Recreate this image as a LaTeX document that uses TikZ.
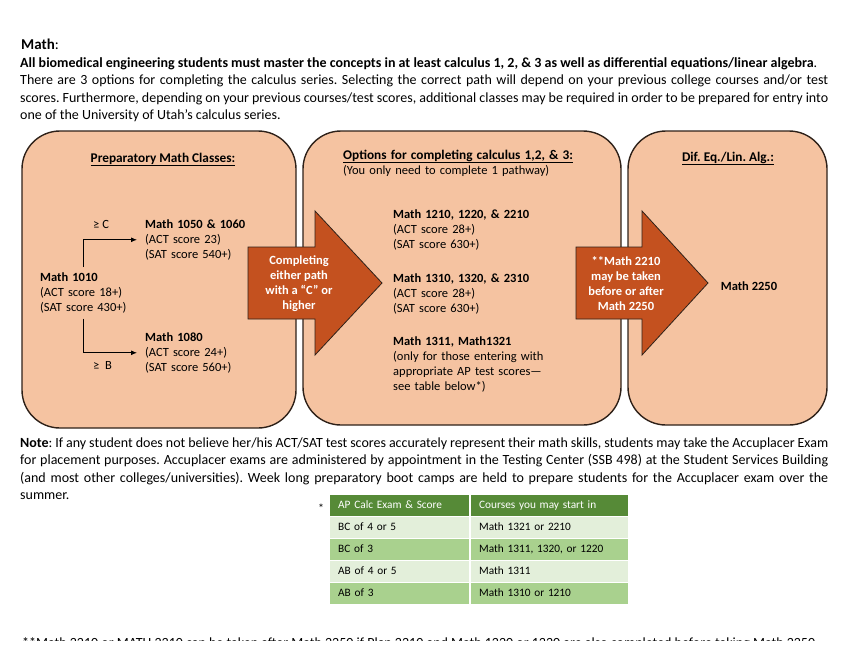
\documentclass[tikz,border=0pt]{standalone}
\usepackage{fontspec}
\setmainfont{Carlito}
\usetikzlibrary{arrows.meta,positioning,calc}
\definecolor{Peach}{HTML}{F5C3A1}
\definecolor{Rust}{HTML}{C4511F}
\definecolor{Edge}{HTML}{2E2119}
\definecolor{Leaf}{HTML}{568A37}
\definecolor{PaleLeaf}{HTML}{E3EFDA}
\definecolor{MidLeaf}{HTML}{A9D18E}
\frenchspacing

\begin{document}
\begin{tikzpicture}[x=1pt,y=-1pt,
    panel/.style={draw=Edge,line width=1.4pt,fill=Peach,rounded corners=38pt,inner sep=0pt},
    bigarrow/.style={draw=Edge,line width=0.8pt,fill=Rust,line join=miter},
    arrtxt/.style={text=white,align=center,font=\bfseries\fontsize{12.5}{15}\selectfont},
    para/.style={anchor=base west,inner sep=0pt,text width=808pt,align=justify,font=\fontsize{14}{17.5}\selectfont},
    course/.style={anchor=base west,inner sep=0pt,text width=175pt,align=left,font=\fontsize{12.5}{15.3}\selectfont},
    title/.style={anchor=base,inner sep=0pt,font=\bfseries\fontsize{13.3}{15}\selectfont},
    grade/.style={anchor=base west,inner sep=0pt,font=\fontsize{12.5}{15}\selectfont},
    flow/.style={-{Latex[length=6pt,width=5pt]},line width=0.9pt},
    cell/.style={anchor=north west,minimum height=20.5pt,inner xsep=8pt,inner ysep=0pt,
      text height=8pt,text depth=2.5pt,align=left,font=\fontsize{11.3}{13}\selectfont}
  ]
  \useasboundingbox (0,0) rectangle (850,657);
  \node[inner sep=0pt,anchor=base west,font=\fontsize{15}{18}\selectfont] (heading) at (21,49) {\textbf{Math}:};
  \node[para] (intro) at (20,67) {\textbf{All biomedical engineering students must master the concepts in at least calculus 1, 2, \& 3 as well as differential equations/linear algebra}.\par
    There are 3 options for completing the calculus series. Selecting the correct path will depend on your previous college courses and/or test\linebreak
    scores. Furthermore, depending on your previous courses/test scores, additional classes may be required in order to be prepared for entry into\linebreak
    one of the University of Utah’s calculus series.};

  \node[panel,minimum width=274pt,minimum height=297pt] (prep) at (159,279.5) {};
  \node[panel,minimum width=318pt,minimum height=294pt] (calc) at (462,278) {};
  \node[panel,minimum width=199pt,minimum height=294pt] (dif) at (727.5,278) {};

  \node[title] (prephead) at (163,162) {\underline{Preparatory Math Classes:}};
  \node[course,text width=270pt] (calchead) at (343,159) {{\bfseries\fontsize{13.3}{15}\selectfont\underline{Options for completing calculus 1,2, \& 3:}}\\(You only need to complete 1 pathway)};
  \node[title] (difhead) at (728,161) {\underline{Dif. Eq./Lin. Alg.:}};

  \node[course] (m1010) at (40,281) {\textbf{Math 1010}\\(ACT score 18+)\\(SAT score 430+)};
  \node[course] (m1050) at (145,228) {\textbf{Math 1050 \& 1060}\\(ACT score 23)\\(SAT score 540+)};
  \node[course] (m1080) at (145,341) {\textbf{Math 1080}\\(ACT score 24+)\\(SAT score 560+)};
  \node[grade] (gec) at (93,228) {≥ C};
  \node[grade] (geb) at (93,369) {≥~~B};
  \draw[flow] ([shift={(43pt,5pt)}]m1010.north west) |- ([xshift=-8pt]m1050.west);
  \draw[flow] ([shift={(43pt,-5pt)}]m1010.south west) |- ([xshift=-8pt]m1080.west);

  \node[course] (m1210) at (393,218) {\textbf{Math 1210, 1220, \& 2210}\\(ACT score 28+)\\(SAT score 630+)};
  \node[course] (m1310) at (393,282) {\textbf{Math 1310, 1320, \& 2310}\\(ACT score 28+)\\(SAT score 630+)};
  \node[course] (m1311) at (393,345) {\textbf{Math 1311, Math1321}\\(only for those entering with\\appropriate AP test scores—\\see table below*)};
  \node[title,font=\bfseries\fontsize{12.5}{15}\selectfont] (m2250) at (749,290) {Math 2250};

  \draw[bigarrow] (248,247) -- (315,247) -- (315,211) -- (382,283) -- (315,355) -- (315,319) -- (248,319) -- cycle;
  \node[arrtxt] (pass) at (299,283.5) {Completing\\either path\\with a “C” or\\higher};
  \draw[bigarrow] (576,247) -- (642,247) -- (642,211) -- (708,283) -- (642,355) -- (642,319) -- (576,319) -- cycle;
  \node[arrtxt] (either) at (626,283.5) {**Math 2210\\may be taken\\before or after\\Math 2250};

  \node[para] (note) at (20,447) {\textbf{Note}: If any student does not believe her/his ACT/SAT test scores accurately represent their math skills, students may take the Accuplacer Exam\linebreak
    for placement purposes. Accuplacer exams are administered by appointment in the Testing Center (SSB 498) at the Student Services Building\linebreak
    (and most other colleges/universities). Week long preparatory boot camps are held to prepare students for the Accuplacer exam over the\linebreak
    summer.};

  \node[font=\fontsize{12}{14}\selectfont] (star) at (321,508) {*};
  \foreach \r/\ytop/\col/\ink/\exam/\course in {
    0/495/Leaf/white/{AP Calc Exam \& Score}/{Courses you may start in},
    1/517/PaleLeaf/black/{BC of 4 or 5}/{Math 1321 or 2210},
    2/539/MidLeaf/black/{BC of 3}/{Math 1311, 1320, or 1220},
    3/561/PaleLeaf/black/{AB of 4 or 5}/{Math 1311},
    4/583/MidLeaf/black/{AB of 3}/{Math 1310 or 1210}}{
    \node[cell,fill=\col,text=\ink,minimum width=139pt,text width=123pt] (exam\r) at (330,\ytop) {\exam};
    \node[cell,fill=\col,text=\ink,minimum width=157pt,text width=141pt] (start\r) at (471,\ytop) {\course};
  }

  \begin{scope}
    \clip (0,630) rectangle (850,640.5);
    \node[para,text width=806pt] (footnote) at (22,647) {**Math 2210 or MATH 2310 can be taken after Math 2250 if Plan 2210 and Math 1220 or 1320 are also completed before taking Math 2250};
  \end{scope}
\end{tikzpicture}
\end{document}
